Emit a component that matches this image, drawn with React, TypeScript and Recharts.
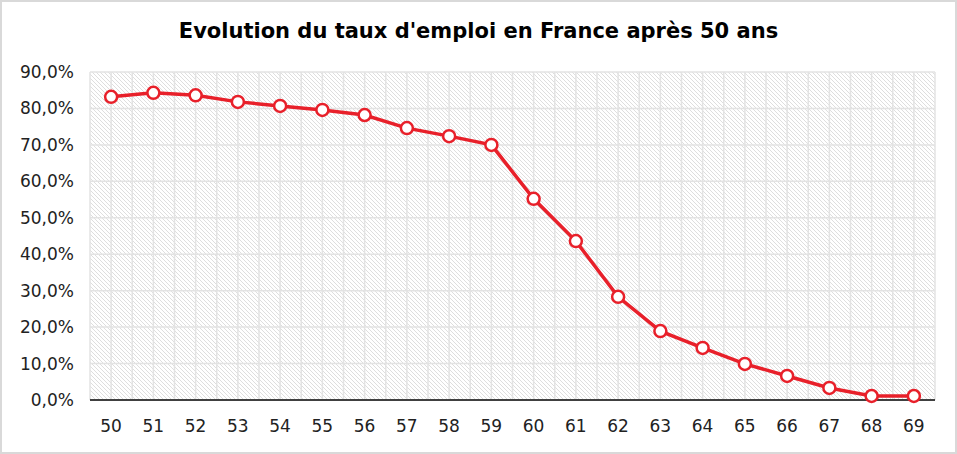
import React from "react";
import { CartesianGrid, Line, LineChart, XAxis, YAxis } from "recharts";

const ages = ["50", "51", "52", "53", "54", "55", "56", "57", "58", "59", "60", "61", "62", "63", "64", "65", "66", "67", "68", "69"];
const tauxEmploi = [83.2, 84.3, 83.6, 81.8, 80.7, 79.6, 78.2, 74.6, 72.4, 70.0, 55.2, 43.6, 28.3, 18.9, 14.3, 9.9, 6.6, 3.3, 1.1, 1.1];
const yTicks = [0, 10, 20, 30, 40, 50, 60, 70, 80, 90];

const data = ages.map((age, i) => ({ age, taux: tauxEmploi[i] }));

const FONT = "'DejaVu Sans', sans-serif";

// grid every half category (major + minor gridlines)
const verticalLines = ({ offset }: any) => {
  const pts: number[] = [];
  const n = ages.length * 2;
  for (let i = 0; i <= n; i++) pts.push(offset.left + (i * offset.width) / n);
  return pts;
};

export default function App() {
  return (
    <div
      style={{
        position: "absolute",
        left: 0,
        top: 0,
        width: 957,
        height: 454,
        boxSizing: "border-box",
        border: "2px solid #d9d9d9",
        background: "#fff",
        fontFamily: FONT,
      }}
    >
      <div
        style={{
          position: "absolute",
          left: 0,
          right: 0,
          top: 17,
          textAlign: "center",
          fontSize: 21,
          fontWeight: "bold",
          color: "#000",
        }}
      >
        Evolution du taux d'emploi en France après 50 ans
      </div>
      <div style={{ position: "absolute", left: -2, top: -2 }}>
        <LineChart width={957} height={454} data={data} margin={{ top: 72, right: 22, bottom: 12, left: 0 }}>
          <defs>
            <pattern id="hatch" width="4" height="4" patternUnits="userSpaceOnUse">
              <rect width="4" height="4" fill="#fff" />
              <path d="M-1,-1 L5,5" stroke="#dedede" strokeWidth="1" />
            </pattern>
          </defs>
          <CartesianGrid
            fill="url(#hatch)"
            stroke="#e3e3e3"
            strokeWidth={1.5}
            verticalCoordinatesGenerator={verticalLines}
          />
          <XAxis
            dataKey="age"
            scale="band"
            height={42}
            axisLine={{ stroke: "#404040", strokeWidth: 2 }}
            tickLine={false}
            tick={{ fill: "#222", fontSize: 17, fontFamily: FONT }}
            tickMargin={14}
          />
          <YAxis
            width={90}
            domain={[0, 90]}
            ticks={yTicks}
            axisLine={false}
            tickLine={false}
            tickFormatter={(v: number) => v.toFixed(1).replace(".", ",") + "%"}
            tick={{ fill: "#222", fontSize: 17, fontFamily: FONT }}
            tickMargin={10}
          />
          <Line
            dataKey="taux"
            stroke="#e8202a"
            strokeWidth={3.5}
            dot={{ r: 6, fill: "#fff", stroke: "#e8202a", strokeWidth: 2.5 }}
            isAnimationActive={false}
          />
        </LineChart>
      </div>
    </div>
  );
}
